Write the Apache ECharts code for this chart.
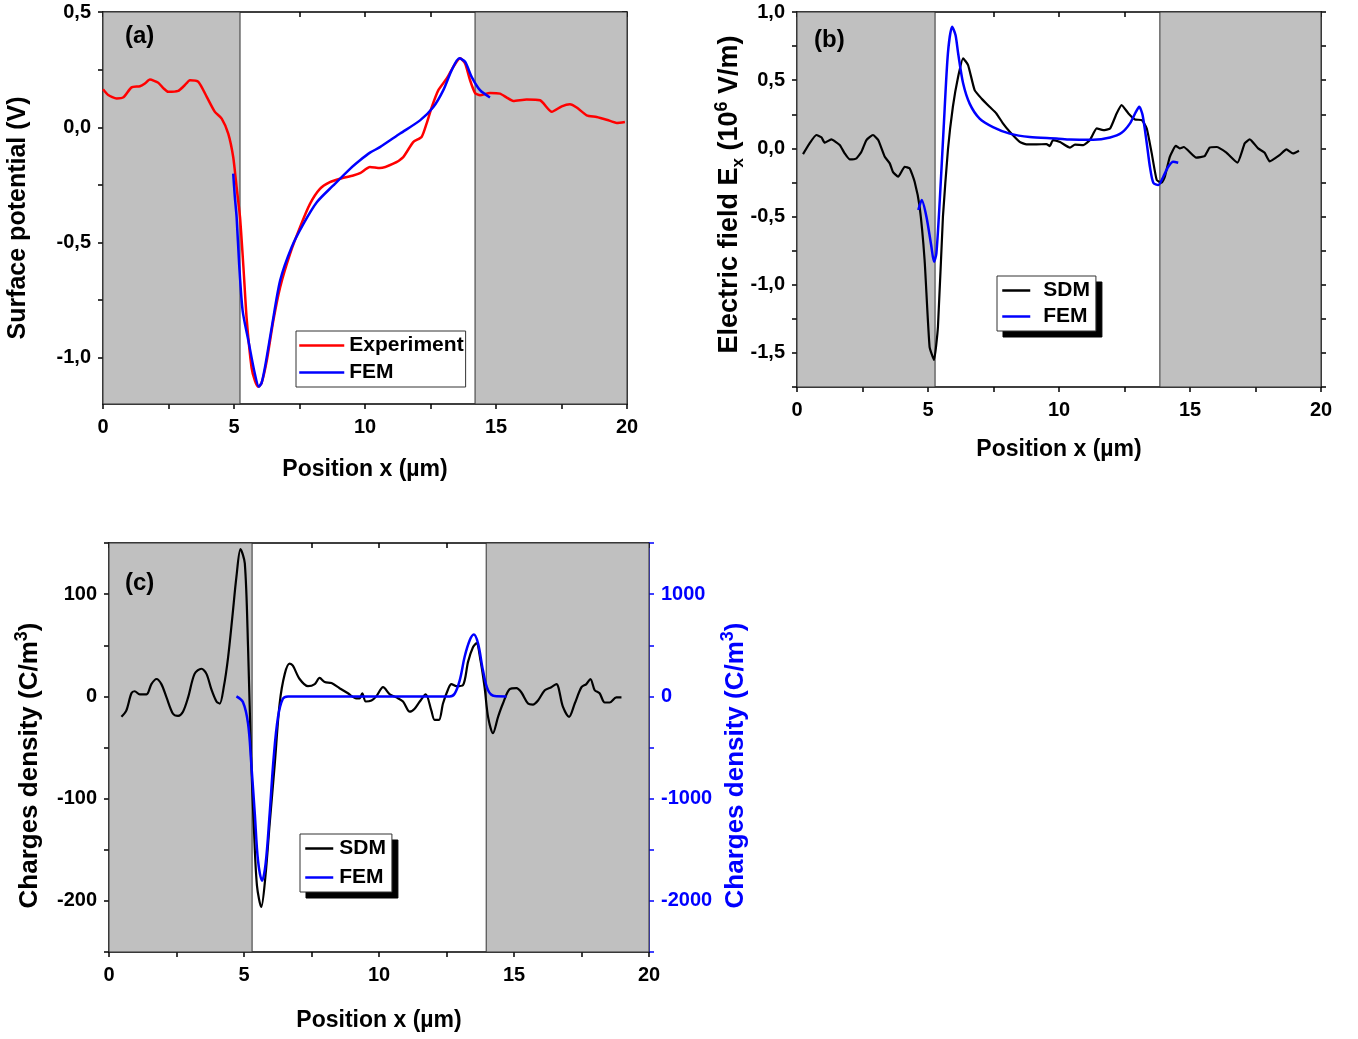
<!DOCTYPE html>
<html>
<head>
<meta charset="utf-8">
<script src="https://cdn.jsdelivr.net/npm/echarts@6/dist/echarts.min.js"></script>
<style>
html,body{margin:0;padding:0;background:#fff;}
#chart{width:1358px;height:1039px;}
</style>
</head>
<body>
<div id="chart"></div>
<script>
// ---------- DATA ----------
// (a) Surface potential (V) vs position (µm)
const expA = [[0.0,0.165],[0.2,0.14],[0.52,0.125],[0.78,0.13],[1.09,0.173],[1.41,0.178],[1.6,0.19],[1.79,0.207],[2.11,0.193],[2.3,0.17],[2.49,0.154],[2.87,0.158],[3.1,0.18],[3.32,0.204],[3.64,0.197],[3.96,0.132],[4.27,0.067],[4.53,0.038],[4.78,-0.027],[4.97,-0.129],[5.10,-0.26],[5.23,-0.39],[5.36,-0.607],[5.48,-0.825],[5.67,-1.042],[5.80,-1.10],[5.92,-1.125],[6.05,-1.11],[6.25,-1.013],[6.50,-0.839],[6.76,-0.694],[7.14,-0.549],[7.52,-0.433],[7.90,-0.332],[8.28,-0.267],[8.66,-0.238],[9.05,-0.223],[9.55,-0.209],[9.81,-0.199],[10.19,-0.172],[10.57,-0.177],[11.08,-0.158],[11.46,-0.129],[11.84,-0.064],[12.16,-0.042],[12.35,0.016],[12.55,0.088],[12.80,0.161],[13.12,0.212],[13.37,0.262],[13.63,0.299],[13.82,0.277],[14.01,0.204],[14.20,0.149],[14.39,0.139],[14.77,0.149],[15.15,0.146],[15.41,0.129],[15.66,0.114],[16.17,0.12],[16.68,0.117],[17.13,0.067],[17.51,0.091],[17.82,0.1],[18.08,0.086],[18.46,0.052],[18.84,0.045],[19.22,0.033],[19.61,0.019],[19.92,0.023]];
const femA = [[4.97,-0.201],[5.03,-0.30],[5.10,-0.39],[5.20,-0.60],[5.33,-0.796],[5.55,-0.926],[5.80,-1.071],[5.95,-1.125],[6.05,-1.11],[6.18,-1.042],[6.44,-0.868],[6.76,-0.665],[7.20,-0.52],[7.65,-0.419],[8.16,-0.325],[8.79,-0.252],[9.43,-0.18],[9.81,-0.143],[10.19,-0.11],[10.57,-0.086],[11.34,-0.027],[12.10,0.030],[12.61,0.088],[12.99,0.161],[13.31,0.248],[13.60,0.299],[13.82,0.284],[14.07,0.219],[14.39,0.161],[14.77,0.129]];
// (b) Electric field Ex (10^6 V/m)
const sdmB = [[0.23,-0.042],[0.48,0.037],[0.74,0.098],[0.93,0.081],[1.06,0.041],[1.31,0.066],[1.63,0.024],[1.82,-0.037],[2.01,-0.081],[2.27,-0.073],[2.46,-0.025],[2.65,0.061],[2.90,0.098],[3.10,0.061],[3.35,-0.062],[3.54,-0.11],[3.66,-0.172],[3.86,-0.208],[4.11,-0.135],[4.30,-0.147],[4.49,-0.245],[4.68,-0.428],[4.87,-0.819],[5.06,-1.455],[5.23,-1.552],[5.38,-1.308],[5.57,-0.501],[5.76,-0.012],[5.95,0.305],[6.15,0.525],[6.34,0.66],[6.53,0.611],[6.78,0.427],[7.04,0.366],[7.35,0.305],[7.61,0.256],[7.86,0.183],[8.12,0.122],[8.50,0.048],[8.76,0.029],[9.14,0.029],[9.52,0.031],[9.65,0.017],[9.77,0.061],[10.04,0.046],[10.42,0.005],[10.61,0.027],[10.93,0.024],[11.18,0.061],[11.44,0.146],[11.69,0.134],[11.95,0.146],[12.20,0.256],[12.39,0.317],[12.65,0.256],[12.90,0.212],[13.16,0.207],[13.35,0.146],[13.54,-0.037],[13.73,-0.232],[13.92,-0.252],[14.04,-0.208],[14.23,-0.062],[14.46,0.018],[14.61,0.0],[14.76,0.01],[15.24,-0.068],[15.56,-0.057],[15.75,0.005],[16.01,0.01],[16.39,-0.032],[16.81,-0.105],[17.09,0.037],[17.28,0.066],[17.60,0.0],[17.85,-0.032],[18.04,-0.095],[18.42,-0.049],[18.68,-0.007],[18.93,-0.037],[19.16,-0.017]];
const femB = [[4.63,-0.452],[4.76,-0.379],[4.94,-0.501],[5.13,-0.721],[5.23,-0.831],[5.32,-0.77],[5.45,-0.379],[5.60,0.159],[5.76,0.697],[5.92,0.892],[6.05,0.831],[6.15,0.697],[6.34,0.477],[6.59,0.328],[6.97,0.218],[7.48,0.156],[8.12,0.108],[8.88,0.083],[9.90,0.073],[10.42,0.065],[11.31,0.063],[11.95,0.08],[12.39,0.114],[12.71,0.183],[12.94,0.269],[13.06,0.305],[13.19,0.244],[13.35,0.037],[13.47,-0.135],[13.60,-0.252],[13.79,-0.269],[13.98,-0.208],[14.17,-0.135],[14.36,-0.098],[14.55,-0.105]];
// (c) Charges density (C/m^3): SDM on left axis, FEM on right axis
const sdmC = [[0.46,-20],[0.64,-14],[0.83,3],[0.95,5],[1.14,2],[1.39,2],[1.57,12],[1.76,17],[1.94,12],[2.13,-1],[2.37,-17],[2.56,-19],[2.74,-15],[2.93,-1],[3.17,22],[3.42,27],[3.61,22],[3.79,7],[3.98,-5],[4.10,-7],[4.25,9],[4.41,38],[4.57,78],[4.72,117],[4.87,144],[5.03,130],[5.15,48],[5.27,-66],[5.37,-131],[5.48,-185],[5.64,-206],[5.79,-177],[5.95,-125],[6.14,-66],[6.32,-7],[6.51,22],[6.69,32],[6.81,30],[7.06,17],[7.37,10],[7.62,12],[7.80,18],[7.99,14],[8.24,13],[8.54,8],[8.85,3],[9.16,-2],[9.28,-2],[9.38,3],[9.51,-5],[9.72,-4],[9.90,0],[10.15,9],[10.40,2],[10.64,-1],[10.89,-5],[11.14,-15],[11.32,-12],[11.51,-5],[11.73,2],[11.94,-14],[12.06,-23],[12.22,-23],[12.37,-7],[12.56,7],[12.68,12],[12.87,10],[13.11,11],[13.30,34],[13.48,48],[13.61,52],[13.76,35],[13.91,9],[14.04,-20],[14.22,-36],[14.41,-20],[14.59,-7],[14.84,7],[15.09,8],[15.27,4],[15.52,-7],[15.70,-8],[15.89,-4],[16.14,6],[16.38,9],[16.57,12],[16.81,-10],[17.04,-20],[17.25,-7],[17.50,9],[17.68,12],[17.83,17],[17.99,6],[18.17,3],[18.36,-6],[18.54,-6],[18.79,-1],[18.98,-1]];
const femC = [[4.72,0],[4.96,-56],[5.15,-267],[5.27,-659],[5.40,-1149],[5.52,-1606],[5.67,-1802],[5.80,-1639],[5.95,-1149],[6.10,-594],[6.26,-202],[6.44,-23],[6.63,0],[12.62,0],[12.80,26],[12.99,157],[13.17,385],[13.36,548],[13.51,604],[13.67,516],[13.85,255],[14.04,59],[14.28,3],[14.72,0]];
// shaded (grey) regions, µm
const shadeA = [[0, 5.23], [14.2, 20]];
const shadeB = [[0, 5.27], [13.85, 20]];
const shadeC = [[0, 5.30], [13.97, 20]];
// ticks & labels
const xTicks = [0, 2.5, 5, 7.5, 10, 12.5, 15, 17.5, 20];
const xLabels = [0, 5, 10, 15, 20];
const yTicksA = [-1.0, -0.75, -0.5, -0.25, 0, 0.25, 0.5];
const yLabelsA = [-1.0, -0.5, 0, 0.5];
const yTicksB = [-1.75, -1.5, -1.25, -1.0, -0.75, -0.5, -0.25, 0, 0.25, 0.5, 0.75, 1.0];
const yLabelsB = [-1.5, -1.0, -0.5, 0, 0.5, 1.0];
const yTicksC = [-250, -200, -150, -100, -50, 0, 50, 100, 150];
const yLabelsC = [-200, -100, 0, 100];
const yTicksC2 = [-2500, -2000, -1500, -1000, -500, 0, 500, 1000, 1500];
const yLabelsC2 = [-2000, -1000, 0, 1000];

// ---------- CHART ----------
const FONT = '"Liberation Sans", Arial, Helvetica, sans-serif';
const chart = echarts.init(document.getElementById('chart'), null, {renderer: 'canvas'});
const comma1 = v => Number(v).toFixed(1).replace('.', ',');
const plain = v => String(v);
const AXC = '#000';

function xAx(grid, top, ticks, labels, gap) {
  return {
    type: 'value', gridIndex: grid, position: top ? 'top' : 'bottom',
    min: 0, max: 20,
    axisLine: {show: true, onZero: false, lineStyle: {color: AXC, width: 1.5}},
    axisTick: {show: true, inside: !!top, length: 5, customValues: ticks, lineStyle: {color: AXC, width: 1.5}},
    axisLabel: {show: !top, customValues: labels, margin: 13, fontFamily: FONT, fontWeight: 'bold', fontSize: 20, color: '#000', formatter: plain},
    splitLine: {show: false},
    name: top ? '' : 'Position x (µm)', nameLocation: 'middle', nameGap: gap || 52,
    nameTextStyle: {fontFamily: FONT, fontWeight: 'bold', fontSize: 23, color: '#000'}
  };
}
function yAx(grid, right, min, max, ticks, labels, fmt, opts) {
  opts = opts || {};
  const col = opts.color || AXC;
  return {
    type: 'value', gridIndex: grid, position: right ? 'right' : 'left',
    min: min, max: max,
    axisLine: {show: true, onZero: false, lineStyle: {color: col, width: 1.5}},
    axisTick: {show: true, inside: !!opts.inside, length: 5, customValues: ticks, lineStyle: {color: col, width: 1.5}},
    axisLabel: {show: !!labels, customValues: labels || [], margin: 12, fontFamily: FONT, fontWeight: 'bold', fontSize: 20, color: col, formatter: fmt || plain},
    splitLine: {show: false},
    name: opts.name || '', nameLocation: 'middle', nameGap: opts.gap || 60,
    nameTextStyle: opts.nts || {}
  };
}
function richName(color, fs, extra) {
  const base = {fontFamily: FONT, fontWeight: 'bold', color: color};
  return Object.assign({
    rich: {
      t: Object.assign({fontSize: fs, lineHeight: fs + 7, verticalAlign: 'middle'}, base),
      sup: Object.assign({fontSize: Math.round(fs * 0.68), lineHeight: Math.round(fs * 0.68), verticalAlign: 'top'}, base),
      sub: Object.assign({fontSize: Math.round(fs * 0.62), lineHeight: Math.round(fs * 0.62), verticalAlign: 'bottom'}, base)
    }
  }, extra || {});
}
function shade(xi, yi, ranges) {
  return {
    type: 'line', xAxisIndex: xi, yAxisIndex: yi, data: [], z: 1, silent: true,
    markArea: {silent: true, itemStyle: {color: '#c0c0c0', borderColor: '#333', borderWidth: 1},
      data: ranges.map(r => [{xAxis: r[0]}, {xAxis: r[1]}])}
  };
}
function line(name, xi, yi, data, color, width, smooth) {
  return {type: 'line', name: name, xAxisIndex: xi, yAxisIndex: yi, data: data, z: 3,
    symbol: 'none', showSymbol: false, smooth: smooth || false,
    lineStyle: {color: color, width: width}, itemStyle: {color: color}};
}
// one visible legend box; optional black "shadow" box = identical legend, offset, drawn below
function legendCfg(left, top, data, iw, gap, pad, textPad, asShadow) {
  return {
    orient: 'vertical', left: left, top: top, data: data,
    itemWidth: iw, itemHeight: 14, itemGap: gap,
    padding: pad, z: asShadow ? 3 : 6,
    backgroundColor: asShadow ? '#000' : '#fff',
    borderColor: asShadow ? '#000' : '#333', borderWidth: 1, borderRadius: 0,
    selectedMode: false,
    itemStyle: {opacity: 0},
    lineStyle: asShadow ? {width: 2.5, opacity: 0} : {width: 2.5},
    textStyle: {fontFamily: FONT, fontWeight: 'bold', fontSize: 21, color: '#000', padding: [0, 0, 0, textPad]}
  };
}

const option = {
  animation: false,
  backgroundColor: '#fff',
  grid: [
    {left: 103, top: 12, width: 524, height: 392, containLabel: false},
    {left: 797, top: 12, width: 524, height: 375, containLabel: false},
    {left: 109, top: 543, width: 540, height: 409, containLabel: false}
  ],
  xAxis: [
    xAx(0, false, xTicks, xLabels, 54), xAx(0, true, xTicks, xLabels),
    xAx(1, false, xTicks, xLabels, 51), xAx(1, true, xTicks, xLabels),
    xAx(2, false, xTicks, xLabels, 57), xAx(2, true, xTicks, xLabels)
  ],
  yAxis: [
    yAx(0, false, -1.2, 0.5, yTicksA, yLabelsA, comma1, {name: 'Surface potential (V)', gap: 72,
      nts: {fontFamily: FONT, fontWeight: 'bold', fontSize: 25, color: '#000', padding: [0, 20, 0, 0]}}),
    yAx(0, true, -1.2, 0.5, yTicksA, null, null, {inside: true}),
    yAx(1, false, -1.75, 1.0, yTicksB, yLabelsB, comma1, {name: '{t|Electric field E}{sub|x}{t| (10}{sup|6}{t| V/m)}', gap: 46, nts: richName('#000', 27, {padding: [0, 0, 0, 10]})}),
    yAx(1, true, -1.75, 1.0, yTicksB, null, null, {}),
    yAx(2, false, -250, 150, yTicksC, yLabelsC, plain, {name: '{t|Charges density (C/m}{sup|3}{t|)}', gap: 63, nts: richName('#000', 26, {padding: [0, 36, 0, 0]})}),
    yAx(2, true, -2500, 1500, yTicksC2, yLabelsC2, plain, {color: '#0000ff', name: '{t|Charges density (C/m}{sup|3}{t|)}', gap: 70, nts: richName('#0000ff', 26, {padding: [0, 36, 0, 0]})})
  ],
  legend: [
    legendCfg(296, 331, ['Experiment', 'FEM'], 45, 6, [4, 2, 4, 2], 0, false),
    legendCfg(1003, 282, ['SDM', 'FEM'], 28, 5, [4, 6, 4, 4], 8, true),
    legendCfg(997, 276, ['SDM', 'FEM'], 28, 5, [4, 6, 4, 4], 8, false),
    legendCfg(306, 840, ['SDM', 'FEM'], 28, 8, [4, 6, 4, 4], 1, true),
    legendCfg(300, 834, ['SDM', 'FEM'], 28, 8, [4, 6, 4, 4], 1, false)
  ],
  graphic: [
    {type: 'text', left: 125, top: 24, z: 10, style: {text: '(a)', fontFamily: FONT, fontWeight: 'bold', fontSize: 24, fill: '#000'}},
    {type: 'text', left: 814, top: 28, z: 10, style: {text: '(b)', fontFamily: FONT, fontWeight: 'bold', fontSize: 24, fill: '#000'}},
    {type: 'text', left: 125, top: 571, z: 10, style: {text: '(c)', fontFamily: FONT, fontWeight: 'bold', fontSize: 24, fill: '#000'}}
  ],
  series: [
    shade(0, 0, shadeA),
    line('Experiment', 0, 0, expA, '#ff0000', 2.5, 0.2),
    line('FEM', 0, 0, femA, '#0000ff', 2.5, 0.25),
    shade(2, 2, shadeB),
    line('SDM', 2, 2, sdmB, '#000000', 2.2, 0.15),
    line('FEM', 2, 2, femB, '#0000ff', 2.5, 0.25),
    shade(4, 4, shadeC),
    line('SDM', 4, 4, sdmC, '#000000', 2.2, 0.3),
    line('FEM', 4, 5, femC, '#0000ff', 2.5, 0.35)
  ]
};
chart.setOption(option);
</script>
</body>
</html>
